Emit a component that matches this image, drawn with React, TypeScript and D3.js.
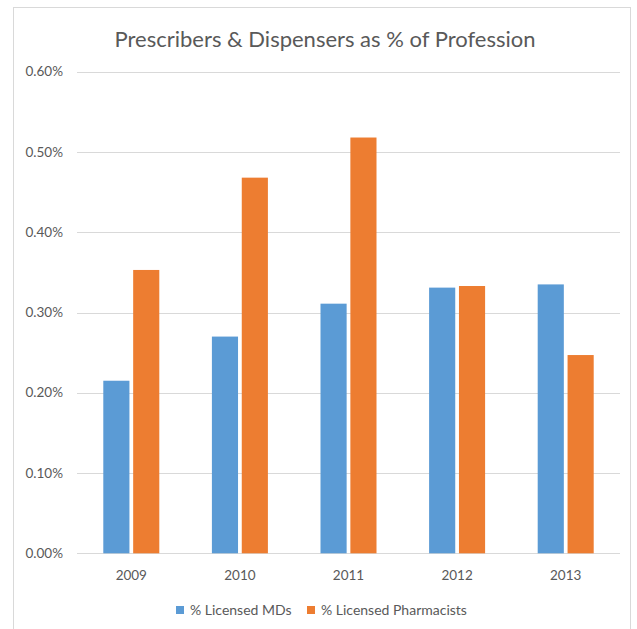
import React from "react";
import * as d3 from "d3";

const years = ["2009", "2010", "2011", "2012", "2013"];
const mdValues = [0.215, 0.27, 0.311, 0.331, 0.335];
const pharmValues = [0.353, 0.468, 0.518, 0.333, 0.247];
const yTicks = [0, 0.1, 0.2, 0.3, 0.4, 0.5, 0.6];
const seriesNames = ["% Licensed MDs", "% Licensed Pharmacists"];
const seriesColors = ["#5B9BD5", "#ED7D31"];

const W = 637;
const H = 629;
const font = "Lato, 'Open Sans', sans-serif";

export default function App() {
  const x = d3.scaleBand<string>().domain(years).range([77, 620]).padding(0);
  const y = d3.scaleLinear().domain([0, 0.6]).range([553.3, 71.7]);
  const inner = d3
    .scaleBand<number>()
    .domain([0, 1])
    .range([-28, 28])
    .paddingInner(0.125);
  const series = [mdValues, pharmValues];

  return (
    <svg
      width={W}
      height={H}
      style={{ position: "absolute", left: 0, top: 0, background: "#fff" }}
      fontFamily={font}
    >
      <rect x={13.5} y={7.5} width={617} height={630} fill="#fff" stroke="#D9D9D9" strokeWidth={1} />
      <text x={325} y={47} textAnchor="middle" fontSize={22} fill="#595959">
        Prescribers &amp; Dispensers as % of Profession
      </text>
      {yTicks.map((t) => (
        <g key={t}>
          <line
            x1={77}
            x2={620}
            y1={Math.round(y(t)) + 0.5}
            y2={Math.round(y(t)) + 0.5}
            stroke="#D9D9D9"
            strokeWidth={1}
          />
          <text
            x={63}
            y={y(t)}
            dy="0.35em"
            textAnchor="end"
            fontSize={13.5}
            fill="#595959"
          >
            {d3.format(".2f")(t) + "%"}
          </text>
        </g>
      ))}
      {years.map((yr, i) => {
        const cx = (x(yr) as number) + x.bandwidth() / 2;
        return (
          <g key={yr}>
            {series.map((vals, s) => (
              <rect
                key={s}
                x={cx + (inner(s) as number)}
                y={y(vals[i])}
                width={inner.bandwidth()}
                height={y(0) - y(vals[i])}
                fill={seriesColors[s]}
              />
            ))}
            <text
              x={cx}
              y={575}
              dy="0.35em"
              textAnchor="middle"
              fontSize={13.5}
              fill="#595959"
            >
              {yr}
            </text>
          </g>
        );
      })}
      {seriesNames.map((name, s) => {
        const lx = s === 0 ? 180 : 311;
        return (
          <g key={name}>
            <rect x={lx - 4} y={606} width={8} height={8} fill={seriesColors[s]} />
            <text x={lx + 10} y={610} dy="0.35em" fontSize={14} fill="#595959">
              {name}
            </text>
          </g>
        );
      })}
    </svg>
  );
}
